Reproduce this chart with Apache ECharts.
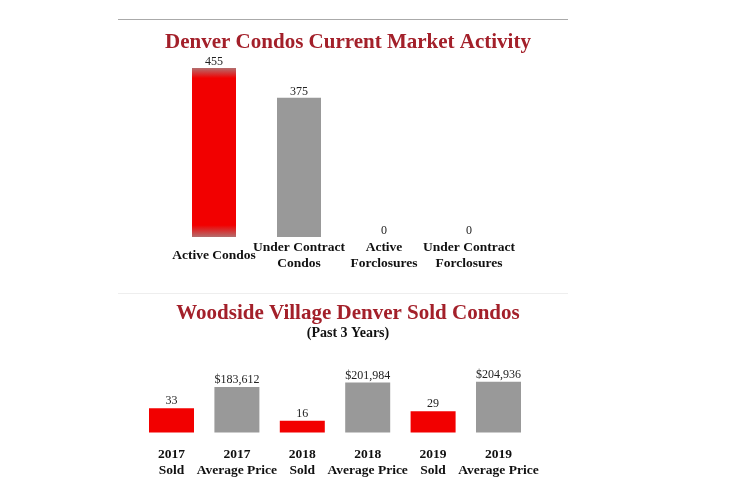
<!DOCTYPE html>
<html><head><meta charset="utf-8">
<script src="https://cdn.jsdelivr.net/npm/echarts@6/dist/echarts.min.js"></script>
<style>html,body{margin:0;padding:0;background:#fff}#c{width:730px;height:498px}</style>
</head><body><div id="c"></div>
<script>
const topCategories = ['Active Condos', 'Under Contract\nCondos', 'Active\nForclosures', 'Under Contract\nForclosures'];
const topValues = [455, 375, 0, 0];
const bottomCategories = ['2017\nSold', '2017\nAverage Price', '2018\nSold', '2018\nAverage Price', '2019\nSold', '2019\nAverage Price'];
const soldValues = [33, '-', 16, '-', 29, '-'];
const priceValues = ['-', 183612, '-', 201984, '-', 204936];

const FONT = '"Liberation Serif", "Times New Roman", serif';
const RED = '#f20000', GRAY = '#999999', TITLE = '#a3202a';

const chart = echarts.init(document.getElementById('c'), null, {renderer: 'canvas'});
const redGrad = new echarts.graphic.LinearGradient(0, 0, 0, 1, [
  {offset: 0, color: '#b46e6e'}, {offset: 0.06, color: RED},
  {offset: 0.93, color: RED}, {offset: 1, color: '#b46e6e'}]);

chart.setOption({
  animation: false,
  textStyle: {fontFamily: FONT},
  title: [
    {text: 'Denver Condos Current Market Activity', left: 343, textAlign: 'center', top: 27,
     textStyle: {fontFamily: FONT, fontSize: 21, fontWeight: 'bold', color: TITLE}},
    {text: 'Woodside Village Denver Sold Condos', left: 343, textAlign: 'center', top: 298,
     textStyle: {fontFamily: FONT, fontSize: 21, fontWeight: 'bold', color: TITLE}},
    {text: '(Past 3 Years)', left: 343, textAlign: 'center', top: 321,
     textStyle: {fontFamily: FONT, fontSize: 14, fontWeight: 'bold', color: '#111'}}
  ],
  graphic: [
    {type: 'line', shape: {x1: 118, y1: 19.5, x2: 568, y2: 19.5}, style: {stroke: '#aaaaaa', lineWidth: 1}},
    {type: 'line', shape: {x1: 118, y1: 293.5, x2: 568, y2: 293.5}, style: {stroke: '#eeeeee', lineWidth: 1}}
  ],
  grid: [
    {left: 171.5, right: 218.5, top: 68, height: 169},
    {left: 138.8, right: 198.8, top: 372.5, height: 60}
  ],
  xAxis: [
    {type: 'category', gridIndex: 0, data: topCategories,
     axisLine: {show: false}, axisTick: {show: false},
     axisLabel: {interval: 0, margin: 19, verticalAlign: 'middle', fontFamily: FONT, fontSize: 13.5,
       fontWeight: 'bold', color: '#111', lineHeight: 16}},
    {type: 'category', gridIndex: 1, data: bottomCategories,
     axisLine: {show: false}, axisTick: {show: false},
     axisLabel: {interval: 0, margin: 30, verticalAlign: 'middle', fontFamily: FONT, fontSize: 13.5,
       fontWeight: 'bold', color: '#111', lineHeight: 16}}
  ],
  yAxis: [
    {type: 'value', gridIndex: 0, min: 0, max: 455, show: false},
    {type: 'value', gridIndex: 1, min: 0, max: 81.8, show: false},
    {type: 'value', gridIndex: 1, min: 0, max: 241900, show: false}
  ],
  series: [
    {type: 'bar', xAxisIndex: 0, yAxisIndex: 0, barWidth: 44,
     data: topValues.map((v, i) => ({value: v, itemStyle: {color: i === 0 ? redGrad : GRAY}})),
     label: {show: true, position: 'top', distance: 0, fontFamily: FONT, fontSize: 12, color: '#222'}},
    {type: 'bar', xAxisIndex: 1, yAxisIndex: 1, barWidth: 45, barGap: '-100%',
     data: soldValues, itemStyle: {color: RED},
     label: {show: true, position: 'top', distance: 1, fontFamily: FONT, fontSize: 12, color: '#222'}},
    {type: 'bar', xAxisIndex: 1, yAxisIndex: 2, barWidth: 45, barGap: '-100%',
     data: priceValues, itemStyle: {color: GRAY},
     label: {show: true, position: 'top', distance: 1, fontFamily: FONT, fontSize: 12, color: '#222',
       formatter: p => '$' + Number(p.value).toLocaleString('en-US')}}
  ]
});
</script></body></html>
